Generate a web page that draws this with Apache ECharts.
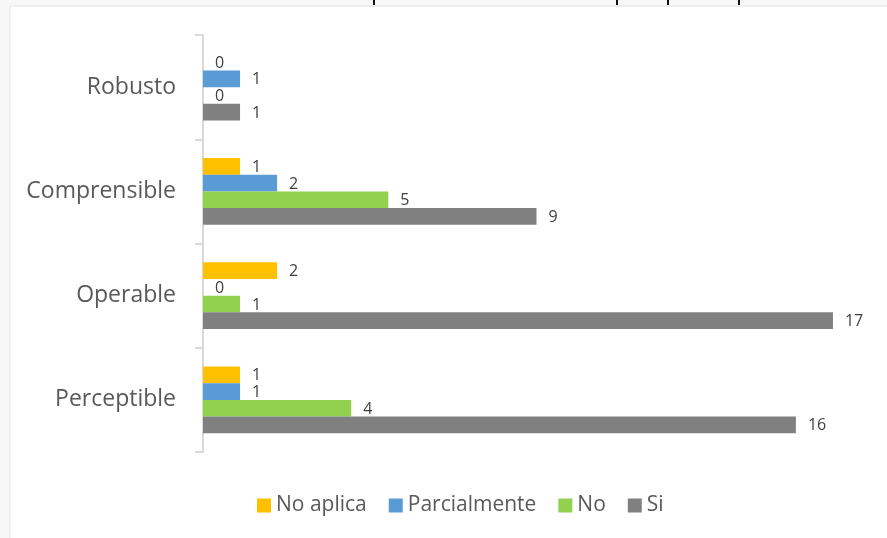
<!DOCTYPE html>
<html>
<head>
<meta charset="utf-8">
<script src="https://cdn.jsdelivr.net/npm/echarts@6/dist/echarts.min.js"></script>
<style>
  html, body { margin: 0; padding: 0; background: #f7f7f7; }
  #chart { width: 887px; height: 538px; }
</style>
</head>
<body>
<div id="chart"></div>
<script>
// datos del gráfico (de abajo hacia arriba en el eje)
var categories = ["Perceptible", "Operable", "Comprensible", "Robusto"];
var seriesNames = ["No aplica", "Parcialmente", "No", "Si"];
var noAplica = [1, 2, 1, 0];
var parcialmente = [1, 0, 2, 1];
var no = [4, 1, 5, 0];
var si = [16, 17, 9, 1];
var colors = ["#FFC000", "#5B9BD5", "#92D050", "#808080"];

var font = "'Open Sans', 'Noto Sans', sans-serif";

function barSeries(name, data, color) {
  return {
    name: name,
    type: "bar",
    data: data,
    barGap: "0%",
    barCategoryGap: "36%",
    itemStyle: { color: color },
    label: {
      show: true,
      position: "right",
      distance: 12,
      offset: [0, 1],
      color: "#404040",
      fontSize: 16,
      fontFamily: font,
    },
  };
}

var myChart = echarts.init(document.getElementById("chart"));
myChart.setOption({
  backgroundColor: "#f7f7f7",
  animation: false,
  graphic: [
    {
      type: "rect",
      z: -10,
      shape: { x: 10, y: 6, width: 890, height: 540 },
      style: { fill: "#fff", stroke: "#e2e2e2", lineWidth: 1 },
    },
    { type: "rect", z: -5, shape: { x: 373, y: 0, width: 2, height: 5 }, style: { fill: "#111" } },
    { type: "rect", z: -5, shape: { x: 616, y: 0, width: 2, height: 5 }, style: { fill: "#111" } },
    { type: "rect", z: -5, shape: { x: 667, y: 0, width: 2, height: 5 }, style: { fill: "#111" } },
    { type: "rect", z: -5, shape: { x: 738, y: 0, width: 2, height: 5 }, style: { fill: "#111" } },
  ],
  legend: {
    data: seriesNames,
    left: 252,
    top: 490,
    itemWidth: 14,
    itemHeight: 14,
    itemGap: 22,
    icon: "rect",
    textStyle: { color: "#595959", fontSize: 21, fontFamily: font },
  },
  grid: {
    left: 203,
    right: 17,
    top: 35,
    bottom: 86,
  },
  xAxis: {
    type: "value",
    min: 0,
    max: 18,
    show: false,
    splitLine: { show: false },
  },
  yAxis: {
    type: "category",
    data: categories,
    axisLine: { lineStyle: { color: "#d9d9d9", width: 2 } },
    axisTick: { show: true, length: 8, lineStyle: { color: "#d9d9d9", width: 2 } },
    axisLabel: {
      color: "#595959",
      fontSize: 23,
      fontFamily: font,
      margin: 27,
    },
  },
  series: [
    barSeries(seriesNames[0], noAplica, colors[0]),
    barSeries(seriesNames[1], parcialmente, colors[1]),
    barSeries(seriesNames[2], no, colors[2]),
    barSeries(seriesNames[3], si, colors[3]),
  ],
});
</script>
</body>
</html>
